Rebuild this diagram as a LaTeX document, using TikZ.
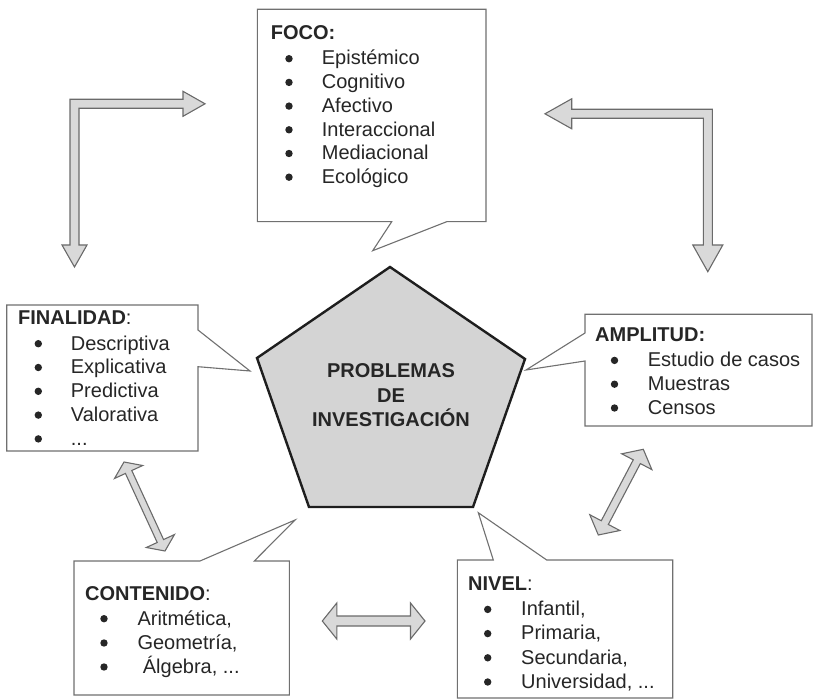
\documentclass[tikz,border=0pt]{standalone}
\usepackage{fontspec}
\setmainfont{Liberation Sans}
\usetikzlibrary{calc}

\definecolor{ink}{HTML}{262626}
\definecolor{boxline}{HTML}{707070}
\definecolor{arrowfill}{HTML}{D9D9D9}
\definecolor{arrowline}{HTML}{6A6A6A}
\definecolor{corefill}{HTML}{D4D4D4}
\definecolor{coreline}{HTML}{1E1E1E}

\tikzset{
  callout/.style={draw=boxline, line width=1.1pt, fill=white, line join=miter},
  blockarrow/.style={draw=arrowline, fill=arrowfill, line width=1.1pt, line join=miter},
  txt/.style={inner sep=0pt, text=ink, font=\fontsize{20}{24}\selectfont, anchor=base west},
  dot/.style={circle, fill=ink, inner sep=0pt, minimum size=7.4pt},
  coretxt/.style={inner sep=0pt, text=ink, font=\fontsize{20}{24}\selectfont\bfseries, anchor=base},
}

% straight two-headed block arrow: #1,#2 tips; #3 shaft half width;
% #4 head half width; #5 head length
\newcommand\twowayarrow[5]{%
  \draw[blockarrow] (#1)
    -- ($(#1)!#5!(#2)!#4!90:(#2)$) -- ($(#1)!#5!(#2)!#3!90:(#2)$)
    -- ($(#2)!#5!(#1)!#3!-90:(#1)$) -- ($(#2)!#5!(#1)!#4!-90:(#1)$)
    -- (#2)
    -- ($(#2)!#5!(#1)!#4!90:(#1)$) -- ($(#2)!#5!(#1)!#3!90:(#1)$)
    -- ($(#1)!#5!(#2)!#3!-90:(#2)$) -- ($(#1)!#5!(#2)!#4!-90:(#2)$)
    -- cycle;}

% one bulleted line: #1 name, #2 bullet x, #3 text x, #4 baseline y, #5 text
\newcommand\listline[5]{%
  \node[dot] (#1b) at (#2,{#4-6.3}) {};
  \node[txt] (#1) at (#3,#4) {#5};}

\begin{document}
\begin{tikzpicture}[x=1pt,y=-1pt]
\useasboundingbox (0,0) rectangle (816,700);

% ---- central pentagon ----
\draw[fill=corefill, draw=coreline, line width=2.4pt, line join=miter]
  (390,267) -- (525,359) -- (473,507) -- (309,507) -- (257,358) -- cycle;
\node[coretxt] (core1) at (391,377.3) {PROBLEMAS};
\node[coretxt] (core2) at (391,402.7) {DE};
\node[coretxt] (core3) at (391,426.7) {INVESTIGACIÓN};

% ---- FOCO ----
\draw[callout] (257.3,9.3) -- (486,9.3) -- (486,221.7) -- (446.7,221.7)
  -- (372.7,250.7) -- (391.7,221.7) -- (257.3,221.7) -- cycle;
\node[txt] (focoT) at (270.7,39.3) {\textbf{FOCO:}};
\listline{foco1}{289}{321.7}{65}{Epistémico}
\listline{foco2}{289}{321.7}{88.7}{Cognitivo}
\listline{foco3}{289}{321.7}{112.4}{Afectivo}
\listline{foco4}{289}{321.7}{136.1}{Interaccional}
\listline{foco5}{289}{321.7}{159.8}{Mediacional}
\listline{foco6}{289}{321.7}{183.5}{Ecológico}

% ---- FINALIDAD ----
\draw[callout] (6.7,305) -- (198,305) -- (198,330) -- (250,371) -- (198,366.7)
  -- (198,451) -- (6.7,451) -- cycle;
\node[txt] (finT) at (18,325) {\textbf{FINALIDAD}:};
\listline{fin1}{38.3}{70.7}{350}{Descriptiva}
\listline{fin2}{38.3}{70.7}{373.8}{Explicativa}
\listline{fin3}{38.3}{70.7}{397.6}{Predictiva}
\listline{fin4}{38.3}{70.7}{421.4}{Valorativa}
\listline{fin5}{38.3}{70.7}{445.2}{...}

% ---- AMPLITUD ----
\draw[callout] (585,314.3) -- (812,314.3) -- (812,426) -- (585,426) -- (585,361)
  -- (526,370) -- (585,333) -- cycle;
\node[txt] (ampT) at (595,341.7) {\textbf{AMPLITUD:}};
\listline{amp1}{614.5}{647.7}{366.7}{Estudio de casos}
\listline{amp2}{614.5}{647.7}{390.5}{Muestras}
\listline{amp3}{614.5}{647.7}{414.3}{Censos}

% ---- CONTENIDO ----
\draw[callout] (74,561) -- (200,561) -- (295,520) -- (254.3,561) -- (289.3,561)
  -- (289.3,695) -- (74,695) -- cycle;
\node[txt] (conT) at (85,600) {\textbf{CONTENIDO}:};
\listline{con1}{104}{137.3}{625}{Aritmética,}
\listline{con2}{104}{137.3}{649.3}{Geometría,}
\listline{con3}{104}{142.7}{673.3}{Álgebra, ...}

% ---- NIVEL ----
\draw[callout] (457.3,560) -- (493.3,560) -- (478.3,512.7) -- (546.7,560)
  -- (672.7,560) -- (672.7,698) -- (457.3,698) -- cycle;
\node[txt] (nivT) at (468,590.7) {\textbf{NIVEL}:};
\listline{niv1}{487.7}{521}{615.7}{Infantil,}
\listline{niv2}{487.7}{521}{639.9}{Primaria,}
\listline{niv3}{487.7}{521}{664.1}{Secundaria,}
\listline{niv4}{487.7}{521}{688.3}{Universidad, ...}

% ---- elbow arrows at the top ----
\draw[blockarrow] (205,103.8) -- (183,91.3) -- (183,99.3) -- (70,99.3) -- (70,245)
  -- (62,245) -- (74.5,267) -- (87,245) -- (79,245) -- (79,108.3) -- (183,108.3)
  -- (183,116.3) -- cycle;
\draw[blockarrow] (545,113.8) -- (571.7,98.8) -- (571.7,109.3) -- (712.3,109.3)
  -- (712.3,245) -- (722.8,245) -- (707.8,271.7) -- (692.8,245) -- (703.3,245)
  -- (703.3,118.3) -- (571.7,118.3) -- (571.7,128.8) -- cycle;

% ---- two-headed arrows between neighbouring boxes ----
\coordinate (finEnd) at (124,462);
\coordinate (conEnd) at (165,551);
\coordinate (ampEnd) at (643.3,449.3);
\coordinate (nivEnd) at (598.3,535);
\coordinate (conSide) at (322.3,621);
\coordinate (nivSide) at (425,621);
\twowayarrow{finEnd}{conEnd}{3.5pt}{15.5pt}{11pt}
\twowayarrow{ampEnd}{nivEnd}{4pt}{17pt}{14pt}
\twowayarrow{conSide}{nivSide}{5pt}{18pt}{14.5pt}

\end{tikzpicture}
\end{document}
